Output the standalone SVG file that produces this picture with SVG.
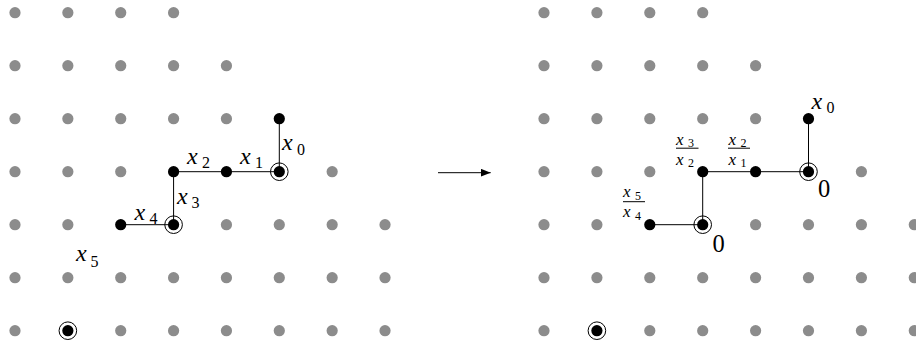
<svg xmlns="http://www.w3.org/2000/svg" width="916" height="345" viewBox="0 0 916 345">
<style>
.g{fill:#8c8c8c}
.b{fill:#000}
.ring{fill:none;stroke:#000;stroke-width:1}
.ln{stroke:#000;stroke-width:1;fill:none}
.v{font-style:italic;font-size:24px}
.s{font-size:16px}
.fv{font-style:italic;font-size:17px}
.fs{font-size:12px}
.z{font-size:24.5px}
</style>
<defs>
<circle id="gd" r="5.6" class="g"/>
<marker id="ah" viewBox="0 0 10 8" refX="10" refY="4" markerWidth="10" markerHeight="8" markerUnits="userSpaceOnUse" orient="auto"><path d="M0,0 L10,4 L0,8 Z" fill="#000"/></marker>
</defs>
<g id="grid-left">
<use href="#gd" x="15" y="12.7"/><use href="#gd" x="67.86" y="12.7"/><use href="#gd" x="120.72" y="12.7"/><use href="#gd" x="173.58" y="12.7"/>
<use href="#gd" x="15" y="65.7"/><use href="#gd" x="67.86" y="65.7"/><use href="#gd" x="120.72" y="65.7"/><use href="#gd" x="173.58" y="65.7"/><use href="#gd" x="226.44" y="65.7"/>
<use href="#gd" x="15" y="118.7"/><use href="#gd" x="67.86" y="118.7"/><use href="#gd" x="120.72" y="118.7"/><use href="#gd" x="173.58" y="118.7"/><use href="#gd" x="226.44" y="118.7"/>
<use href="#gd" x="15" y="171.7"/><use href="#gd" x="67.86" y="171.7"/><use href="#gd" x="120.72" y="171.7"/><use href="#gd" x="332.16" y="171.7"/>
<use href="#gd" x="15" y="224.7"/><use href="#gd" x="67.86" y="224.7"/><use href="#gd" x="226.44" y="224.7"/><use href="#gd" x="279.3" y="224.7"/><use href="#gd" x="332.16" y="224.7"/><use href="#gd" x="385.02" y="224.7"/>
<use href="#gd" x="15" y="277.7"/><use href="#gd" x="67.86" y="277.7"/><use href="#gd" x="120.72" y="277.7"/><use href="#gd" x="173.58" y="277.7"/><use href="#gd" x="226.44" y="277.7"/><use href="#gd" x="279.3" y="277.7"/><use href="#gd" x="332.16" y="277.7"/><use href="#gd" x="385.02" y="277.7"/>
<use href="#gd" x="15" y="330.7"/><use href="#gd" x="120.72" y="330.7"/><use href="#gd" x="173.58" y="330.7"/><use href="#gd" x="226.44" y="330.7"/><use href="#gd" x="279.3" y="330.7"/><use href="#gd" x="332.16" y="330.7"/><use href="#gd" x="385.02" y="330.7"/>
</g>
<g id="grid-right">
<use href="#gd" x="544" y="12.7"/><use href="#gd" x="596.9" y="12.7"/><use href="#gd" x="649.8" y="12.7"/><use href="#gd" x="702.7" y="12.7"/>
<use href="#gd" x="544" y="65.7"/><use href="#gd" x="596.9" y="65.7"/><use href="#gd" x="649.8" y="65.7"/><use href="#gd" x="702.7" y="65.7"/><use href="#gd" x="755.6" y="65.7"/>
<use href="#gd" x="544" y="118.7"/><use href="#gd" x="596.9" y="118.7"/><use href="#gd" x="649.8" y="118.7"/><use href="#gd" x="702.7" y="118.7"/><use href="#gd" x="755.6" y="118.7"/>
<use href="#gd" x="544" y="171.7"/><use href="#gd" x="596.9" y="171.7"/><use href="#gd" x="649.8" y="171.7"/><use href="#gd" x="861.4" y="171.7"/>
<use href="#gd" x="544" y="224.7"/><use href="#gd" x="596.9" y="224.7"/><use href="#gd" x="755.6" y="224.7"/><use href="#gd" x="808.5" y="224.7"/><use href="#gd" x="861.4" y="224.7"/><use href="#gd" x="914.3" y="224.7"/>
<use href="#gd" x="544" y="277.7"/><use href="#gd" x="596.9" y="277.7"/><use href="#gd" x="649.8" y="277.7"/><use href="#gd" x="702.7" y="277.7"/><use href="#gd" x="755.6" y="277.7"/><use href="#gd" x="808.5" y="277.7"/><use href="#gd" x="861.4" y="277.7"/><use href="#gd" x="914.3" y="277.7"/>
<use href="#gd" x="544" y="330.7"/><use href="#gd" x="649.8" y="330.7"/><use href="#gd" x="702.7" y="330.7"/><use href="#gd" x="755.6" y="330.7"/><use href="#gd" x="808.5" y="330.7"/><use href="#gd" x="861.4" y="330.7"/><use href="#gd" x="914.3" y="330.7"/>
</g>
<g id="connectors">
<path class="ln" d="M279.3,118.7 V171.7 H173.58 V224.7 H120.72"/>
<path class="ln" d="M808.5,118.7 V171.7 H702.7 V224.7 H649.8"/>
<line class="ln" x1="438" y1="172.7" x2="490.7" y2="172.7" marker-end="url(#ah)"/>
</g>
<g id="L-p0"><circle class="b" cx="279.3" cy="118.7" r="5.6"/></g>
<g id="L-c0"><circle class="ring" cx="279.3" cy="171.7" r="8.8"/><circle class="b" cx="279.3" cy="171.7" r="5.6"/></g>
<g id="L-p1"><circle class="b" cx="226.44" cy="171.7" r="5.6"/></g>
<g id="L-p2"><circle class="b" cx="173.58" cy="171.7" r="5.6"/></g>
<g id="L-c1"><circle class="ring" cx="173.58" cy="224.7" r="8.8"/><circle class="b" cx="173.58" cy="224.7" r="5.6"/></g>
<g id="L-p3"><circle class="b" cx="120.72" cy="224.7" r="5.6"/></g>
<g id="L-c2"><circle class="ring" cx="67.86" cy="330.7" r="8.8"/><circle class="b" cx="67.86" cy="330.7" r="5.6"/></g>
<g id="R-p0"><circle class="b" cx="808.5" cy="118.7" r="5.6"/></g>
<g id="R-c0"><circle class="ring" cx="808.5" cy="171.7" r="8.8"/><circle class="b" cx="808.5" cy="171.7" r="5.6"/></g>
<g id="R-p1"><circle class="b" cx="755.6" cy="171.7" r="5.6"/></g>
<g id="R-p2"><circle class="b" cx="702.7" cy="171.7" r="5.6"/></g>
<g id="R-c1"><circle class="ring" cx="702.7" cy="224.7" r="8.8"/><circle class="b" cx="702.7" cy="224.7" r="5.6"/></g>
<g id="R-p3"><circle class="b" cx="649.8" cy="224.7" r="5.6"/></g>
<g id="R-c2"><circle class="ring" cx="596.9" cy="330.7" r="8.8"/><circle class="b" cx="596.9" cy="330.7" r="5.6"/></g>
<g id="labels-left" font-family="Liberation Serif, Times New Roman, serif">
<text class="v" x="282" y="150">x</text><text class="s" x="297" y="154.5">0</text>
<text class="v" x="240" y="164">x</text><text class="s" x="255" y="168">1</text>
<text class="v" x="187" y="164">x</text><text class="s" x="202" y="168">2</text>
<text class="v" x="177" y="203.5">x</text><text class="s" x="191.5" y="208">3</text>
<text class="v" x="134.5" y="220">x</text><text class="s" x="149.5" y="224">4</text>
<text class="v" x="76" y="261">x</text><text class="s" x="90.5" y="266.5">5</text>
</g>
<g id="labels-right" font-family="Liberation Serif, Times New Roman, serif">
<text class="v" x="811.5" y="109">x</text><text class="s" x="826.5" y="113">0</text>
<text class="fv" x="676" y="145">x</text><text class="fs" x="688" y="147.2">3</text>
<line class="ln" x1="676" y1="148.2" x2="698.5" y2="148.2" stroke-width="1.2"/>
<text class="fv" x="676" y="164.7">x</text><text class="fs" x="688" y="167.2">2</text>
<text class="fv" x="728.5" y="145">x</text><text class="fs" x="740.5" y="147.2">2</text>
<line class="ln" x1="728" y1="148.2" x2="750" y2="148.2" stroke-width="1.2"/>
<text class="fv" x="728.5" y="164.7">x</text><text class="fs" x="740.5" y="167.2">1</text>
<text class="fv" x="623" y="197">x</text><text class="fs" x="635" y="199.8">5</text>
<line class="ln" x1="623" y1="201.7" x2="645" y2="201.7" stroke-width="1.2"/>
<text class="fv" x="623" y="217.3">x</text><text class="fs" x="635" y="220.2">4</text>
<text class="z" x="818" y="197">0</text>
<text class="z" x="712.5" y="251.5">0</text>
</g>
</svg>
